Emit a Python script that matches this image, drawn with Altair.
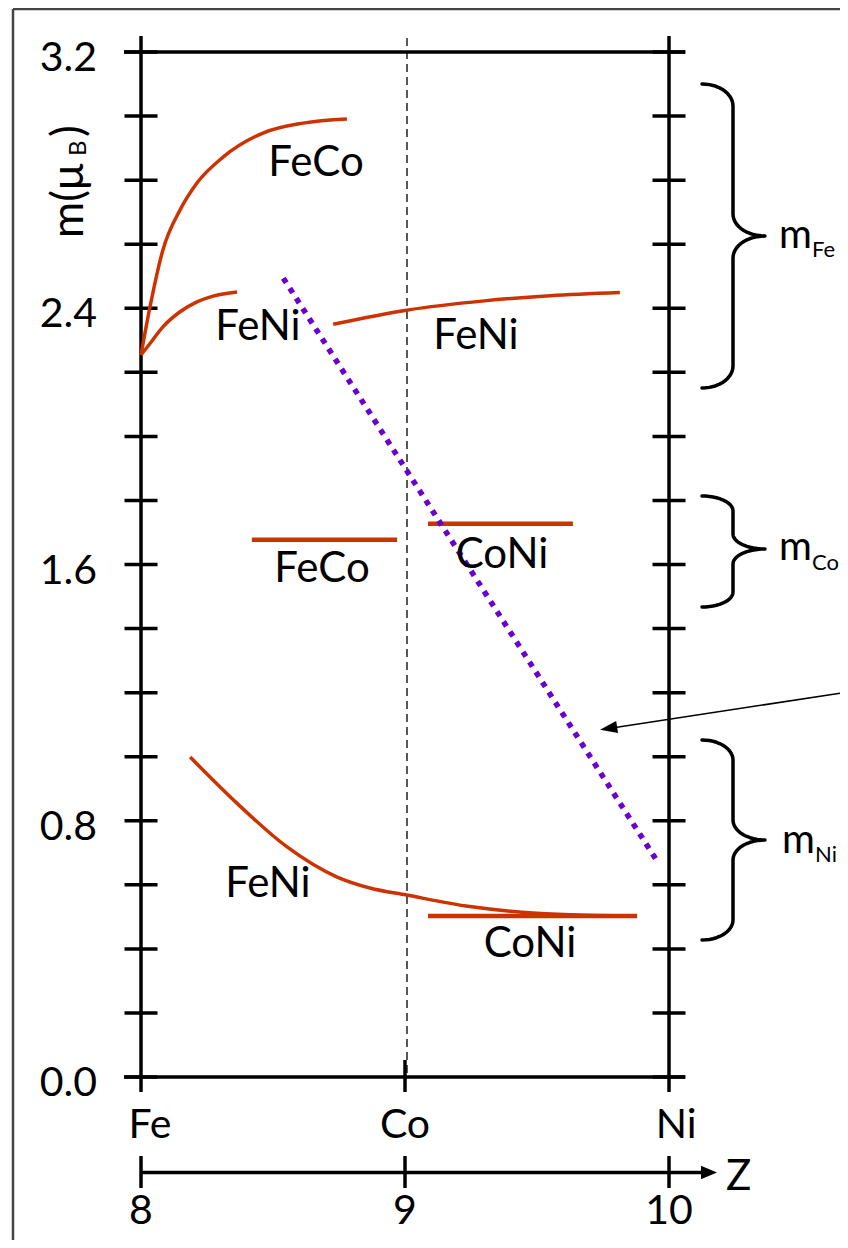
import altair as alt
import pandas as pd
import numpy as np

# ---------------- data ----------------
# Fe moment in FeCo
feco_fe_z = [8.0, 8.034, 8.083, 8.148, 8.212, 8.311, 8.462, 8.614, 8.780]
feco_fe_m = [2.254, 2.404, 2.582, 2.707, 2.791, 2.872, 2.947, 2.978, 2.991]
# Fe moment in FeNi (Fe-rich side)
feni_fe1_z = [8.0, 8.034, 8.083, 8.148, 8.212, 8.273, 8.364]
feni_fe1_m = [2.254, 2.290, 2.342, 2.389, 2.420, 2.438, 2.451]
# Fe moment in FeNi (Ni-rich side)
feni_fe2_z = [8.728, 9.006, 9.30, 9.55, 9.814]
feni_fe2_m = [2.350, 2.394, 2.423, 2.439, 2.449]
# Co moment in FeCo
feco_co_z = [8.420, 8.970]
feco_co_m = [1.677, 1.677]
# Co moment in CoNi
coni_co_z = [9.087, 9.636]
coni_co_m = [1.727, 1.727]
# Ni moment in FeNi
feni_ni_z = [8.186, 8.363, 8.552, 8.741, 8.867, 9.006, 9.246, 9.499, 9.688, 9.879]
feni_ni_m = [0.999, 0.855, 0.719, 0.625, 0.590, 0.568, 0.532, 0.511, 0.505, 0.503]
# Ni moment in CoNi
coni_ni_z = [9.087, 9.879]
coni_ni_m = [0.503, 0.503]
# Slater-Pauling average (dotted)
sp_z = [8.539, 9.962]
sp_m = [2.494, 0.665]

y_ticks = [round(0.2 * i, 1) for i in range(17)]
y_labels = [0.0, 0.8, 1.6, 2.4, 3.2]
elements = ["Fe", "Co", "Ni"]
element_z = [8.034, 9.0, 10.027]
z_ticks = [8, 9, 10]

curve_labels = ["FeCo", "FeNi", "FeNi", "FeCo", "CoNi", "FeNi", "CoNi"]
curve_label_px = [(316, 176), (258, 340), (476, 349), (322, 582), (502, 568), (268, 897), (530, 957)]

# ---------------- pixel <-> data helpers (layout) ----------------
PXZ = 264.0
PXM = 1025.0 / 3.2
def zx(px):
    return 8 + (px - 141) / PXZ
def my(py):
    return (1077 - py) / PXM

ZL, ZR = zx(8), zx(840)
MT, MB = my(8), my(1240)
W, H = 832, 1232
FONT = "Lato"
RED = "#cc3300"
PURPLE = "#6a00d0"

xs = alt.Scale(domain=[ZL, ZR], nice=False, zero=False)
ys = alt.Scale(domain=[MB, MT], nice=False, zero=False)
X = lambda f: alt.X(f, type="quantitative", scale=xs, axis=None)
Y = lambda f: alt.Y(f, type="quantitative", scale=ys, axis=None)

# ---------------- curves ----------------
rows = []
for name, zz, mm in [("feco_fe", feco_fe_z, feco_fe_m), ("feni_fe1", feni_fe1_z, feni_fe1_m),
                     ("feni_fe2", feni_fe2_z, feni_fe2_m), ("feni_ni", feni_ni_z, feni_ni_m)]:
    for i, (a, b) in enumerate(zip(zz, mm)):
        rows.append({"s": name, "i": i, "z": a, "m": b})
curves = pd.DataFrame(rows)
curve_layer = alt.Chart(curves).mark_line(color=RED, strokeWidth=3.5, interpolate="monotone").encode(
    x=X("z"), y=Y("m"), detail="s:N", order="i:Q")

rows = []
for name, zz, mm in [("feco_co", feco_co_z, feco_co_m), ("coni_co", coni_co_z, coni_co_m),
                     ("coni_ni", coni_ni_z, coni_ni_m)]:
    for i, (a, b) in enumerate(zip(zz, mm)):
        rows.append({"s": name, "i": i, "z": a, "m": b})
flat = pd.DataFrame(rows)
flat_layer = alt.Chart(flat).mark_line(color=RED, strokeWidth=4.5).encode(
    x=X("z"), y=Y("m"), detail="s:N", order="i:Q")

sp = pd.DataFrame({"z": sp_z, "m": sp_m, "i": [0, 1]})
sp_layer = alt.Chart(sp).mark_line(color=PURPLE, strokeWidth=5.5, strokeDash=[5.5, 6.5]).encode(
    x=X("z"), y=Y("m"), order="i:Q")

# ---------------- axes drawn as rules ----------------
half = 16.5 / PXZ
axis_v = pd.DataFrame({"z": [8, 10], "y1": [my(36)] * 2, "y2": [my(1092)] * 2})
axv_layer = alt.Chart(axis_v).mark_rule(color="black", strokeWidth=3.5).encode(
    x=X("z"), y=Y("y1"), y2="y2")

tick_rows = []
for zc in [8, 10]:
    for t in y_ticks:
        tick_rows.append({"x1": zc - half, "x2": zc + half, "m": t})
tick_df = pd.DataFrame(tick_rows)
tick_layer = alt.Chart(tick_df).mark_rule(color="black", strokeWidth=3.5).encode(
    x=X("x1"), x2="x2", y=Y("m"))

hl = pd.DataFrame({"x1": [zx(124)] * 2, "x2": [zx(685)] * 2, "m": [0.0, 3.2]})
hl_layer = alt.Chart(hl).mark_rule(color="black", strokeWidth=3.5).encode(
    x=X("x1"), x2="x2", y=Y("m"))

co_tick = pd.DataFrame({"z": [9], "y1": [my(1060)], "y2": [my(1092)]})
co_layer = alt.Chart(co_tick).mark_rule(color="black", strokeWidth=3.5).encode(
    x=X("z"), y=Y("y1"), y2="y2")

dash = pd.DataFrame({"z": [zx(407)], "y1": [my(38)], "y2": [0.0]})
dash_layer = alt.Chart(dash).mark_rule(color="#222222", strokeWidth=1.5, strokeDash=[8, 5]).encode(
    x=X("z"), y=Y("y1"), y2="y2")

# Z axis
zline = pd.DataFrame({"x1": [zx(141)], "x2": [zx(704)], "m": [my(1172.5)]})
zline_layer = alt.Chart(zline).mark_rule(color="black", strokeWidth=3.5).encode(
    x=X("x1"), x2="x2", y=Y("m"))
zt = pd.DataFrame({"z": z_ticks, "y1": [my(1156)] * 3, "y2": [my(1188)] * 3})
zt_layer = alt.Chart(zt).mark_rule(color="black", strokeWidth=3.5).encode(
    x=X("z"), y=Y("y1"), y2="y2")
zhead = pd.DataFrame({"z": [zx(717)], "m": [my(1172.5)]})
zhead_layer = alt.Chart(zhead).mark_point(shape="M0,0L-2,-0.85L-2,0.85Z", filled=True, size=256,
                                          color="black", opacity=1).encode(x=X("z"), y=Y("m"))

# pointer arrow
arr = pd.DataFrame({"x1": [zx(840)], "x2": [zx(612)], "y1": [my(693.2)], "y2": [my(728.0)]})
arr_layer = alt.Chart(arr).mark_rule(color="black", strokeWidth=1.6).encode(
    x=X("x1"), x2="x2", y=Y("y1"), y2="y2")
ahead = pd.DataFrame({"z": [zx(600)], "m": [my(729.8)]})
ahead_layer = alt.Chart(ahead).mark_point(shape="M0,0L2,-0.7L2,0.7Z", filled=True, size=300, angle=351,
                                          color="black", opacity=1).encode(x=X("z"), y=Y("m"))

# frame
frame = pd.DataFrame({"x1": [zx(13), zx(13)], "x2": [zx(13), zx(840)],
                      "y1": [my(9), my(9)], "y2": [my(1240), my(9)]})
frame_layer = alt.Chart(frame).mark_rule(color="#444444", strokeWidth=2.5).encode(
    x=X("x1"), x2="x2", y=Y("y1"), y2="y2")

# braces
def brace(y0, yt, y1, r):
    xe, xsp, xt = 702, 733, 765
    t = np.linspace(0, np.pi / 2, 14)
    pts = []
    pts += [(xe + (xsp - xe) * np.sin(a), y0 + r - r * np.cos(a)) for a in t]
    pts += [(xt - (xt - xsp) * np.cos(a), yt - r + r * np.sin(a)) for a in t]
    pts += [(xt - (xt - xsp) * np.cos(a), yt + r - r * np.sin(a)) for a in t[::-1]]
    pts += [(xe + (xsp - xe) * np.sin(a), y1 - r + r * np.cos(a)) for a in t[::-1]]
    return pts

brows = []
for name, args in [("fe", (84, 236, 388, 22)), ("co", (496, 549, 607, 15)), ("ni", (740, 840, 940, 20))]:
    for i, (px, py) in enumerate(brace(*args)):
        brows.append({"s": name, "i": i, "z": zx(px), "m": my(py)})
br = pd.DataFrame(brows)
brace_layer = alt.Chart(br).mark_line(color="black", strokeWidth=3.5, strokeCap="round",
                                      strokeJoin="round").encode(
    x=X("z"), y=Y("m"), detail="s:N", order="i:Q")

# ---------------- texts ----------------
ylab = pd.DataFrame({"m": y_labels, "t": [f"{v:.1f}" for v in y_labels], "z": [zx(97)] * len(y_labels)})
ylab_layer = alt.Chart(ylab).mark_text(font=FONT, fontSize=41, align="right", baseline="alphabetic",
                                       dy=19, color="black").encode(x=X("z"), y=Y("m"), text="t:N")

el = pd.DataFrame({"z": element_z, "t": elements, "m": [my(1138)] * 3})
el_layer = alt.Chart(el).mark_text(font=FONT, fontSize=41, align="center", baseline="alphabetic",
                                   color="black").encode(x=X("z"), y=Y("m"), text="t:N")

zn = pd.DataFrame({"z": z_ticks, "t": [str(v) for v in z_ticks], "m": [my(1224)] * 3})
zn_layer = alt.Chart(zn).mark_text(font=FONT, fontSize=41, align="center", baseline="alphabetic",
                                   color="black").encode(x=X("z"), y=Y("m"), text="t:N")

zlab = pd.DataFrame({"z": [zx(726)], "m": [my(1190)], "t": ["Z"]})
zlab_layer = alt.Chart(zlab).mark_text(font=FONT, fontSize=42, align="left", baseline="alphabetic",
                                       color="black").encode(x=X("z"), y=Y("m"), text="t:N")

cl = pd.DataFrame({"t": curve_labels, "z": [zx(p[0]) for p in curve_label_px],
                   "m": [my(p[1]) for p in curve_label_px]})
cl_layer = alt.Chart(cl).mark_text(font=FONT, fontSize=42, align="center", baseline="alphabetic",
                                   color="black").encode(x=X("z"), y=Y("m"), text="t:N")

# moment labels m_Fe, m_Co, m_Ni
mm_main = pd.DataFrame({"t": ["m", "m", "m"], "z": [zx(779), zx(779), zx(782)],
                        "m": [my(248), my(560), my(853)]})
mm_layer = alt.Chart(mm_main).mark_text(font=FONT, fontSize=40, align="left", baseline="alphabetic",
                                        color="black").encode(x=X("z"), y=Y("m"), text="t:N")
mm_sub = pd.DataFrame({"t": ["Fe", "Co", "Ni"], "z": [zx(812), zx(812), zx(815)],
                       "m": [my(257), my(570), my(862)]})
ms_layer = alt.Chart(mm_sub).mark_text(font=FONT, fontSize=22, align="left", baseline="alphabetic",
                                       color="black").encode(x=X("z"), y=Y("m"), text="t:N")

# y title m(mu_B), rotated
yt_main = pd.DataFrame({"t": ["m(\u03bc", ")"], "z": [zx(83), zx(83)], "m": [my(238), my(137)]})
yt_layer = alt.Chart(yt_main).mark_text(font=FONT, fontSize=44, align="left", baseline="alphabetic",
                                        angle=270, color="black").encode(x=X("z"), y=Y("m"), text="t:N")
yt_sub = pd.DataFrame({"t": ["B"], "z": [zx(86)], "m": [my(156)]})
ytsub_layer = alt.Chart(yt_sub).mark_text(font=FONT, fontSize=24, align="left", baseline="alphabetic",
                                          angle=270, color="black").encode(x=X("z"), y=Y("m"), text="t:N")

chart = alt.layer(
    frame_layer, dash_layer, axv_layer, tick_layer, hl_layer, co_layer,
    zline_layer, zt_layer, zhead_layer, arr_layer, ahead_layer, brace_layer,
    curve_layer, flat_layer, sp_layer,
    ylab_layer, el_layer, zn_layer, zlab_layer, cl_layer, mm_layer, ms_layer, yt_layer, ytsub_layer,
).properties(
    width=W, height=H, padding=0, background="white",
    autosize=alt.AutoSizeParams(type="none"),
).configure_view(stroke=None)

chart.save("out.html", embed_options={"renderer": "svg", "actions": False})
